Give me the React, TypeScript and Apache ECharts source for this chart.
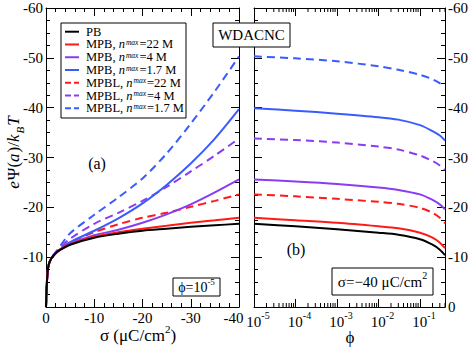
import React, { useEffect, useRef } from "react";
import * as echarts from "echarts";

// ---------- data ----------
// left panel: surface charge density sigma (uC/cm^2) -> e*Psi(a)/kBT, phi = 1e-5
const sigma = [0, -0.1, -0.25, -0.5, -1, -2, -3, -5, -10, -15, -20, -25, -30, -35, -40];
const psiPB = [0, -3.0, -6.0, -8.2, -9.6, -10.8, -11.5, -12.5, -13.9, -14.7, -15.3, -15.7, -16.1, -16.4, -16.7];
const psiMPB22 = [0, -3.0, -6.0, -8.2, -9.6, -10.8, -11.5, -12.6, -14.1, -15.0, -15.7, -16.3, -16.9, -17.4, -17.9];
const psiMPB4 = [0, -3.0, -6.0, -8.2, -9.6, -10.8, -11.6, -12.7, -14.4, -15.5, -16.9, -18.6, -20.6, -23.0, -25.6];
const psiMPB17 = [0, -3.0, -6.0, -8.2, -9.6, -10.8, -11.6, -13.0, -15.3, -17.8, -20.8, -24.5, -28.8, -33.8, -39.7];
const psiMPBL22 = [0, -3.0, -6.0, -8.2, -9.6, -10.8, -11.7, -13.0, -15.0, -16.6, -17.9, -18.9, -20.1, -21.3, -22.6];
const psiMPBL4 = [0, -3.0, -6.0, -8.2, -9.6, -10.9, -11.9, -13.7, -16.7, -18.9, -21.3, -24.1, -27.2, -30.4, -33.8];
const psiMPBL17 = [0, -3.0, -6.0, -8.2, -9.7, -11.0, -12.3, -14.8, -18.5, -22.0, -25.8, -30.8, -36.8, -43.3, -50.3];

// right panel: volume fraction phi -> e*Psi(a)/kBT, sigma = -40 uC/cm^2
const phi = [1e-5, 1e-4, 1e-3, 1e-2, 3e-2, 0.1, 0.2, 0.3, 0.4];
const phiPB = [-16.7, -16.2, -15.6, -14.9, -14.5, -13.6, -12.5, -11.5, -10.4];
const phiMPB22 = [-17.9, -17.4, -16.9, -16.2, -15.8, -14.9, -13.9, -12.9, -11.8];
const phiMPB4 = [-25.6, -25.2, -24.7, -24.0, -23.5, -22.6, -21.5, -20.6, -19.6];
const phiMPB17 = [-39.9, -39.4, -38.8, -38.1, -37.6, -36.5, -35.3, -34.4, -33.4];
const phiMPBL22 = [-22.6, -22.2, -21.7, -21.1, -20.7, -19.9, -18.9, -17.9, -16.8];
const phiMPBL4 = [-33.8, -33.5, -33.0, -32.2, -31.6, -30.4, -29.3, -28.4, -27.5];
const phiMPBL17 = [-50.3, -49.9, -49.3, -48.3, -47.6, -46.6, -45.7, -44.9, -44.2];

const seriesNames = [
  "PB",
  "MPB, n^max=22 M",
  "MPB, n^max=4 M",
  "MPB, n^max=1.7 M",
  "MPBL, n^max=22 M",
  "MPBL, n^max=4 M",
  "MPBL, n^max=1.7 M",
];
const legendPrefix = ["PB", "MPB, ", "MPB, ", "MPB, ", "MPBL, ", "MPBL, ", "MPBL, "];
const legendSuffix = ["", "=22 M", "=4 M", "=1.7 M", "=22 M", "=4 M", "=1.7 M"];
const seriesColors = ["#000000", "#ff1a1a", "#8a3cf2", "#3a5cff", "#ff1a1a", "#8a3cf2", "#3a5cff"];
const seriesDashed = [false, false, false, false, true, true, true];
const leftData = [psiPB, psiMPB22, psiMPB4, psiMPB17, psiMPBL22, psiMPBL4, psiMPBL17];
const rightData = [phiPB, phiMPB22, phiMPB4, phiMPB17, phiMPBL22, phiMPBL4, phiMPBL17];

const logMinorTicks: number[] = [];
for (let e = -5; e <= -1; e++) {
  for (let k = 2; k <= 9; k++) {
    const v = k * Math.pow(10, e);
    if (v <= 0.4) logMinorTicks.push(v);
  }
}

const FONT = "'Liberation Serif', 'Times New Roman', serif";

export default function App() {
  const ref = useRef<HTMLDivElement>(null);

  useEffect(() => {
    document.body.style.margin = "0";
    if (!ref.current) return;
    const chart = echarts.init(ref.current, undefined, { renderer: "svg" });

    const axisLine = { show: true, onZero: false, lineStyle: { color: "#000", width: 1 } };
    const tick = { show: true, inside: true, length: 8, lineStyle: { color: "#000", width: 1 } };
    const labelBase = { color: "#000", fontFamily: FONT, fontSize: 15 };

    const linearX = (gridIndex: number, position: string, showLabel: boolean) => ({
      type: "value",
      gridIndex,
      position,
      min: -40,
      max: 0,
      interval: 10,
      inverse: true,
      axisLine,
      axisTick: tick,
      minorTick: { show: true, splitNumber: 5, length: 4, lineStyle: { color: "#000", width: 1 } },
      splitLine: { show: false },
      minorSplitLine: { show: false },
      axisLabel: {
        show: showLabel,
        margin: 3,
        ...labelBase,
        formatter: (v: number) => (v === -40 ? "{r|-40}" : String(v)),
        rich: { r: { fontFamily: FONT, fontSize: 15, color: "#000", padding: [0, 11, 0, 0] } },
      },
    });
    const logX = (gridIndex: number, position: string, showLabel: boolean) => ({
      type: "log",
      logBase: 10,
      gridIndex,
      position,
      min: 1e-5,
      max: 0.4,
      axisLine,
      axisTick: tick,
      splitLine: { show: false },
      axisLabel: {
        show: showLabel,
        margin: 3,
        showMaxLabel: false,
        formatter: (v: number) => {
          const e = Math.log10(v);
          const r = Math.round(e);
          if (Math.abs(e - r) > 1e-6) return "";
          return `{b|10}{s|${r}}`;
        },
        rich: {
          b: { fontFamily: FONT, fontSize: 15, color: "#000", lineHeight: 24, padding: [0, 0, 0, 8] },
          s: { fontFamily: FONT, fontSize: 10, color: "#000", lineHeight: 12, verticalAlign: "top" },
        },
      },
    });
    const linearY = (gridIndex: number, position: string, showLabel: boolean, showZero: boolean) => ({
      type: "value",
      gridIndex,
      position,
      min: -60,
      max: 0,
      interval: 10,
      inverse: true,
      axisLine,
      axisTick: tick,
      minorTick: { show: true, splitNumber: 4, length: 4, lineStyle: { color: "#000", width: 1 } },
      splitLine: { show: false },
      minorSplitLine: { show: false },
      axisLabel: {
        show: showLabel,
        margin: 3,
        ...labelBase,
        formatter: (v: number) => (v === 0 && !showZero ? "" : String(v)),
      },
    });

    const lineSeries: any[] = [];
    seriesNames.forEach((name, i) => {
      const lineStyle = {
        color: seriesColors[i],
        width: 2,
        type: seriesDashed[i] ? [8, 5] : "solid",
      };
      lineSeries.push({
        name,
        type: "line",
        xAxisIndex: 0,
        yAxisIndex: 0,
        data: sigma.map((s, j) => [s, leftData[i][j]]),
        showSymbol: false,
        smooth: 0.3,
        lineStyle,
        itemStyle: { color: seriesColors[i] },
        z: 3 + (7 - i),
      });
      lineSeries.push({
        name,
        type: "line",
        xAxisIndex: 2,
        yAxisIndex: 2,
        data: phi.map((p, j) => [p, rightData[i][j]]),
        showSymbol: false,
        smooth: 0.3,
        lineStyle,
        itemStyle: { color: seriesColors[i] },
        z: 3 + (7 - i),
      });
    });

    lineSeries.push({
      type: "custom",
      xAxisIndex: 2,
      yAxisIndex: 2,
      silent: true,
      clip: false,
      data: logMinorTicks.map((v) => [v, 0]),
      renderItem: (params: any, api: any) => {
        const v = api.value(0);
        const b = api.coord([v, 0]);
        const t = api.coord([v, -60]);
        return {
          type: "group",
          children: [
            { type: "line", shape: { x1: b[0], y1: b[1], x2: b[0], y2: b[1] - 4 }, style: { stroke: "#000", lineWidth: 1 } },
            { type: "line", shape: { x1: t[0], y1: t[1], x2: t[0], y2: t[1] + 4 }, style: { stroke: "#000", lineWidth: 1 } },
          ],
        };
      },
    });

    const richBase = {
      n: { fontFamily: FONT, fontSize: 12.5, lineHeight: 12, fill: "#000" },
      i: { fontFamily: FONT, fontSize: 12.5, lineHeight: 12, fontStyle: "italic", fill: "#000", padding: [0, 1, 0, 0] },
      s: { fontFamily: FONT, fontSize: 7.5, lineHeight: 6, fontStyle: "italic", fill: "#000", verticalAlign: "top", padding: [0, 1, 0, 0] },
    };

    const Z = 100;
    const legendChildren: any[] = [
      {
        type: "rect",
        z: Z,
        shape: { x: 61, y: 23, width: 125, height: 95 },
        style: { fill: "#fff", stroke: "#000", lineWidth: 1 },
      },
    ];
    seriesNames.forEach((_, i) => {
      const cy = 31.7 + i * 12.77;
      legendChildren.push({
        type: "line",
        z: Z + 1,
        shape: { x1: 65, y1: cy, x2: 79, y2: cy },
        style: { stroke: seriesColors[i], lineWidth: 2, lineDash: seriesDashed[i] ? [6, 3] : null },
      });
      const txt = i === 0 ? "{n|PB}" : `{n|${legendPrefix[i]}}{i|n}{s|max}{n|${legendSuffix[i]}}`;
      legendChildren.push({
        type: "text",
        z: Z + 1,
        x: 86,
        y: cy,
        style: { text: txt, rich: richBase, verticalAlign: "middle", align: "left", fill: "#000" },
      });
    });

    const boxText = (x: number, y: number, w: number, h: number, text: string, rich: any) => ({
      type: "group",
      children: [
        { type: "rect", z: Z, shape: { x, y, width: w, height: h }, style: { fill: "#fff", stroke: "#000", lineWidth: 1 } },
        {
          type: "text",
          z: Z + 1,
          x: x + w / 2,
          y: y + h / 2,
          style: { text, rich, align: "center", verticalAlign: "middle", fill: "#000", fontFamily: FONT, fontSize: 15 },
        },
      ],
    });

    const r15 = {
      n: { fontFamily: FONT, fontSize: 15, lineHeight: 22, fill: "#000" },
      sup: { fontFamily: FONT, fontSize: 10, lineHeight: 11, fill: "#000", verticalAlign: "top" },
    };
    const r14 = {
      n: { fontFamily: FONT, fontSize: 14, lineHeight: 20, fill: "#000" },
      sup: { fontFamily: FONT, fontSize: 9, lineHeight: 10, fill: "#000", verticalAlign: "top" },
    };
    const rTitle = {
      n: { fontFamily: FONT, fontSize: 17, lineHeight: 24, fill: "#000" },
      i: { fontFamily: FONT, fontSize: 17, lineHeight: 24, fontStyle: "italic", fill: "#000", padding: [0, 1, 0, 0] },
      sup: { fontFamily: FONT, fontSize: 11, lineHeight: 12, fill: "#000", verticalAlign: "top" },
      sub: { fontFamily: FONT, fontSize: 11, lineHeight: 12, fontStyle: "italic", fill: "#000", verticalAlign: "bottom", padding: [0, 1, 0, 0] },
    };

    const option: any = {
      animation: false,
      backgroundColor: "#fff",
      grid: [
        { left: 46, top: 8, width: 193, height: 299 },
        { left: 254, top: 8, width: 193, height: 299 },
      ],
      xAxis: [linearX(0, "bottom", true), linearX(0, "top", false), logX(1, "bottom", true), logX(1, "top", false)],
      yAxis: [
        linearY(0, "left", true, false),
        linearY(0, "right", false, false),
        linearY(1, "left", false, true),
        linearY(1, "right", true, true),
      ],
      series: lineSeries,
      graphic: [
        { type: "group", children: legendChildren },
        boxText(213, 23, 77, 24, "{n|WDACNC}", r15),
        boxText(173, 278, 47, 18, "{n|ϕ=10}{sup|-5}", r14),
        boxText(332, 268, 101, 27, "{n|σ=−40 μC/cm}{sup|2}", r15),
        {
          type: "text",
          z: Z,
          x: 97,
          y: 163,
          style: { text: "(a)", fontFamily: FONT, fontSize: 16, fill: "#000", align: "center", verticalAlign: "middle" },
        },
        {
          type: "text",
          z: Z,
          x: 296,
          y: 249,
          style: { text: "(b)", fontFamily: FONT, fontSize: 16, fill: "#000", align: "center", verticalAlign: "middle" },
        },
        {
          type: "text",
          z: Z,
          x: 138,
          y: 335,
          style: { text: "{n|σ (μC/cm}{sup|2}{n|)}", rich: rTitle, align: "center", verticalAlign: "middle" },
        },
        {
          type: "text",
          z: Z,
          x: 350,
          y: 337,
          style: { text: "{n|ϕ}", rich: rTitle, align: "center", verticalAlign: "middle" },
        },
        {
          type: "text",
          z: Z,
          x: 13,
          y: 152,
          rotation: Math.PI / 2,
          style: {
            text: "{i|e}{n|Ψ(}{i|a}{n|)/}{i|k}{sub|B}{i|T}",
            rich: rTitle,
            align: "center",
            verticalAlign: "middle",
          },
        },
      ],
    };

    chart.setOption(option);
    return () => chart.dispose();
  }, []);

  return <div ref={ref} style={{ width: 471, height: 349 }} />;
}
